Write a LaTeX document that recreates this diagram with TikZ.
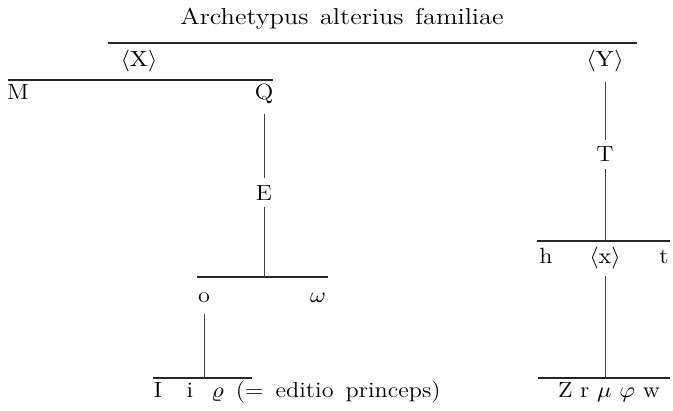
\documentclass[tikz,border=0pt]{standalone}
\usepackage{graphicx}
\newcommand{\lblx}[1]{\scalebox{1.1}[1]{#1}}
\newcommand{\ttlx}[1]{\scalebox{1.15}[1]{#1}}
\tikzset{
  lbl/.style={inner sep=1.5pt, anchor=base, font=\fontsize{11}{13}\selectfont},
  ttl/.style={inner sep=1pt, anchor=base, font=\fontsize{11.5}{14}\selectfont},
  bar/.style={line width=0.6pt, black!85},
  stem/.style={line width=0.45pt, black!75},
}
\begin{document}
\begin{tikzpicture}[x=0.5pt,y=-0.5pt]
\useasboundingbox (0,0) rectangle (673,411);
% title and top bar
\node[ttl] (title) at (342,25) {\ttlx{Archetypus\hspace{5pt}alterius\hspace{5pt}familiae}};
\coordinate (b0l) at (108,43); \coordinate (b0r) at (637,43);
\draw[bar] (b0l) -- (b0r);
\node[lbl] (X) at (139,67) {\lblx{$\langle\mathrm{X}\rangle$}};
\node[lbl] (Y) at (605,67) {\lblx{$\langle\mathrm{Y}\rangle$}};
% left family
\coordinate (b1l) at (8,80); \coordinate (b1r) at (273,80);
\draw[bar] (b1l) -- (b1r);
\node[lbl] (M) at (18,100) {\lblx{M}};
\node[lbl] (Q) at (264,100) {\lblx{Q}};
\node[lbl] (E) at (264,200) {\lblx{E}};
\coordinate (b2l) at (197,277); \coordinate (b2r) at (328,277); \coordinate (b2q) at (264,277);
\draw[bar] (b2l) -- (b2r);
\node[lbl] (o) at (204,302) {\lblx{o}};
\node[lbl] (w) at (318,302) {\lblx{$\omega$}};
\coordinate (b3l) at (153,378); \coordinate (b3r) at (252,378); \coordinate (b3o) at (204,378);
\draw[bar] (b3l) -- (b3r);
\node[lbl] (I) at (158,397) {\lblx{I}};
\node[lbl] (i) at (190,397) {\lblx{i}};
\node[lbl, anchor=base west] (rho) at (208,397) {\lblx{$\varrho$\hspace{5.5pt}(=\hspace{5.5pt}editio\hspace{5.5pt}princeps)}};
% right family
\node[lbl] (T) at (605,162) {\lblx{T}};
\coordinate (b4l) at (537,241); \coordinate (b4r) at (670,241); \coordinate (b4t) at (605,241);
\draw[bar] (b4l) -- (b4r);
\node[lbl] (h) at (546,263) {\lblx{h}};
\node[lbl] (x) at (605,263) {\lblx{$\langle\mathrm{x}\rangle$}};
\node[lbl] (t) at (664,263) {\lblx{t}};
\coordinate (b5l) at (538,378); \coordinate (b5r) at (670,378); \coordinate (b5x) at (605,378);
\draw[bar] (b5l) -- (b5r);
\node[lbl] (Z) at (609,397) {\lblx{Z\hspace{3.5pt}r\hspace{3.5pt}$\mu$\hspace{3.5pt}$\varphi$\hspace{3.5pt}w}};
% stems
\draw[stem, shorten <=3pt, shorten >=2pt] (Q) -- (E);
\draw[stem, shorten <=2pt] (E) -- (b2q);
\draw[stem, shorten <=4pt] (o) -- (b3o);
\draw[stem, shorten <=3pt, shorten >=2pt] (Y) -- (T);
\draw[stem, shorten <=2pt] (T) -- (b4t);
\draw[stem, shorten <=2pt] (x) -- (b5x);
\end{tikzpicture}
\end{document}
